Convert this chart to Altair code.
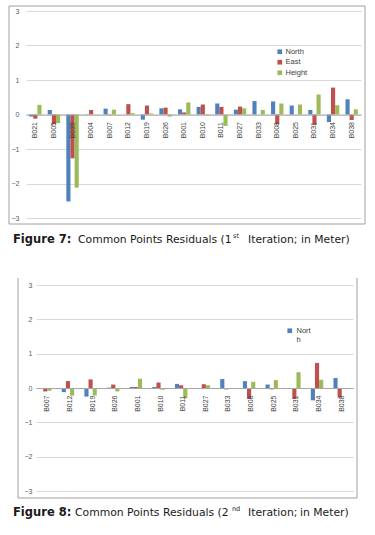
import altair as alt
import pandas as pd

series = ["North", "East", "Height"]
colors = ["#4F81BD", "#C0504D", "#9BBB59"]

cats1 = ["B021", "B005", "B039", "B004", "B007", "B012", "B019", "B026", "B001",
         "B010", "B011", "B027", "B033", "B008", "B025", "B031", "B034", "B038"]
north1 = [-0.06, 0.13, -2.52, 0.01, 0.17, 0.00, -0.15, 0.18, 0.15, 0.22, 0.32, 0.14, 0.39, 0.38, 0.26, 0.13, -0.22, 0.44]
east1 = [-0.12, -0.28, -1.27, 0.13, 0.01, 0.30, 0.26, 0.20, 0.06, 0.29, 0.22, 0.23, 0.00, -0.28, 0.00, -0.30, 0.78, -0.16]
height1 = [0.28, -0.25, -2.12, 0.00, 0.14, 0.04, 0.03, -0.06, 0.35, -0.02, -0.33, 0.18, 0.13, 0.32, 0.29, 0.58, 0.27, 0.15]

cats2 = ["B007", "B012", "B019", "B026", "B001", "B010", "B011", "B027", "B033",
         "B008", "B025", "B031", "B034", "B038"]
north2 = [0.00, -0.12, -0.25, 0.01, 0.03, 0.03, 0.12, -0.02, 0.26, 0.20, 0.10, 0.00, -0.36, 0.29]
east2 = [-0.10, 0.20, 0.25, 0.10, 0.03, 0.16, 0.08, 0.11, -0.04, -0.32, -0.04, -0.32, 0.73, -0.28]
height2 = [-0.08, -0.22, -0.22, -0.10, 0.27, -0.05, -0.30, 0.08, -0.03, 0.18, 0.23, 0.46, 0.24, 0.00]

yticks = [-3, -2, -1, 0, 1, 2, 3]

one = pd.DataFrame({"k": [0]})


def long_df(cats, n, e, h):
    rows = []
    for i, c in enumerate(cats):
        rows.append({"cat": c, "s": "North", "v": n[i]})
        rows.append({"cat": c, "s": "East", "v": e[i]})
        rows.append({"cat": c, "s": "Height", "v": h[i]})
    return pd.DataFrame(rows)


def txt(text, x, y, size=10.8, bold=False, font="DejaVu Sans", color="#1a1a1a", align="left"):
    return alt.Chart(one).mark_text(
        text=text, align=align, baseline="middle", fontSize=size,
        fontWeight="bold" if bold else "normal", font=font, color=color
    ).encode(x=alt.value(x), y=alt.value(y))


def make_chart(cats, n, e, h, W, H, ylabpad, legend, frame, caption):
    df = long_df(cats, n, e, h)
    bars = alt.Chart(df).mark_bar().encode(
        x=alt.X("cat:N", sort=cats,
                scale=alt.Scale(paddingInner=0, paddingOuter=0),
                axis=alt.Axis(title=None, labelAngle=270, offset=-H / 2, domainColor="#a6a6a6",
                              ticks=False, grid=False, labelFontSize=7, labelColor="#404040",
                              labelFont="Liberation Sans", labelPadding=7, zindex=1)),
        xOffset=alt.XOffset("s:N", sort=series,
                            scale=alt.Scale(paddingOuter=0.75, paddingInner=0)),
        y=alt.Y("v:Q", scale=alt.Scale(domain=[-3, 3], nice=False),
                axis=alt.Axis(title=None, values=yticks, grid=True, gridColor="#d9d9d9",
                              domain=False, ticks=False, labelFontSize=7, labelColor="#595959",
                              labelFont="Liberation Sans", labelPadding=ylabpad)),
        color=alt.Color("s:N", sort=series,
                        scale=alt.Scale(domain=series, range=colors), legend=legend),
    )
    layers = [bars] + frame + caption
    return alt.layer(*layers).properties(width=W, height=H)


W1, H1 = 335, 207
W2, H2 = 317, 206

legend1 = alt.Legend(orient="none", legendX=250, legendY=37, title=None, symbolType="square",
                     symbolSize=22, symbolStrokeWidth=0, labelFontSize=7.5, labelColor="#404040",
                     labelFont="Liberation Sans", rowPadding=1.5, padding=0, labelOffset=2)
legend2 = alt.Legend(orient="none", legendX=250, legendY=42, title=None, symbolType="square",
                     symbolSize=22, symbolStrokeWidth=0, labelFontSize=7.5, labelColor="#404040",
                     labelFont="Liberation Sans", padding=0, labelOffset=3, values=["North"],
                     labelExpr="['Nort', 'h']")

frame1 = [alt.Chart(one).mark_rect(fill="transparent", stroke="#a0a0a0", strokeWidth=1).encode(
    x=alt.value(-17), x2=alt.value(W1 + 4), y=alt.value(-5), y2=alt.value(H1 + 6))]
frame2 = [
    alt.Chart(one).mark_rule(color="#a0a0a0").encode(x=alt.value(-18), y=alt.value(-7), y2=alt.value(H2 + 7)),
    alt.Chart(one).mark_rule(color="#a0a0a0").encode(x=alt.value(W2 + 4), y=alt.value(-7), y2=alt.value(H2 + 7)),
    alt.Chart(one).mark_rule(color="#a0a0a0").encode(x=alt.value(-18), x2=alt.value(W2 + 4), y=alt.value(H2 + 7)),
]

cap1 = [
    txt("Figure 7:", -13, 229, size=11.5, bold=True),
    txt("Common Points Residuals (1", 52, 229),
    txt("st", 207, 225, size=6.5),
    txt("Iteration;", 222, 229),
    txt("in Meter)", 275, 229),
]
cap2 = [
    txt("Figure 8:", -23, 228, size=11.5, bold=True),
    txt("Common Points Residuals (2", 39, 228),
    txt("nd", 196, 224, size=6.5),
    txt("Iteration;", 212, 228),
    txt("in Meter)", 264, 228),
]

c1 = make_chart(cats1, north1, east1, height1, W1, H1, 7, legend1, frame1, cap1)
c2 = make_chart(cats2, north2, east2, height2, W2, H2, 4, legend2, frame2, cap2)

spacer = alt.Chart(one).mark_point(opacity=0).encode(
    x=alt.value(0), y=alt.value(0)).properties(width=10, height=H2)

row2 = alt.hconcat(spacer, c2, spacing=0, bounds="flush").resolve_legend(color="independent")

chart = alt.vconcat(c1, row2, spacing=67, bounds="flush").resolve_legend(
    color="independent"
).properties(
    padding={"left": 8, "top": 5, "right": 0, "bottom": 0},
    background="white",
).configure_view(strokeWidth=0)

chart.save("out.html", embed_options={"renderer": "svg", "actions": False})
